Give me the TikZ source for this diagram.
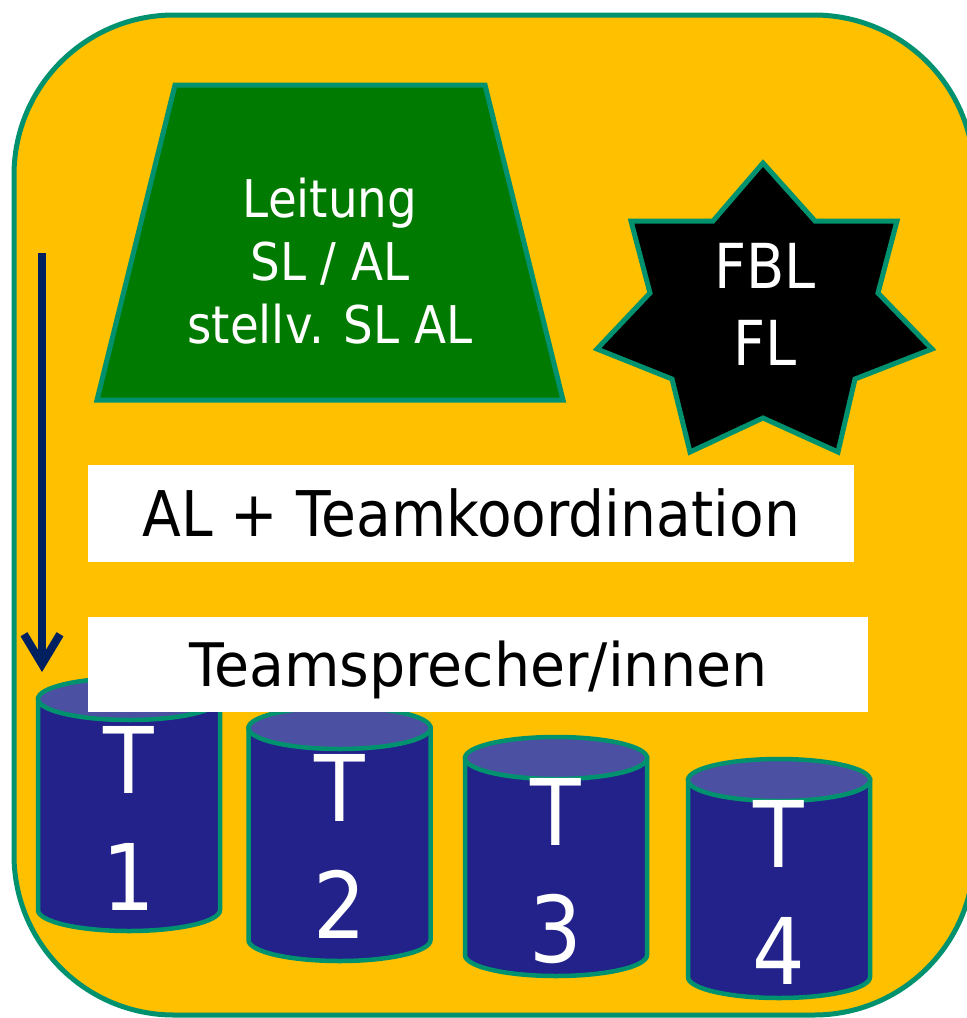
\documentclass[tikz,border=0pt]{standalone}
\usepackage{fontspec}
\setmainfont{DejaVu Sans}[FakeStretch=0.9]
\newfontfamily\widefont{DejaVu Sans}[FakeStretch=0.95]
\usetikzlibrary{arrows.meta}
\definecolor{bgyellow}{RGB}{255,192,0}
\definecolor{tealline}{RGB}{0,146,110}
\definecolor{leadgreen}{RGB}{0,122,0}
\definecolor{cylbody}{RGB}{34,34,138}
\definecolor{cyltop}{RGB}{76,80,162}
\definecolor{arrownavy}{RGB}{0,32,96}
\tikzset{
  frame/.style={draw=tealline, line width=5pt, fill=bgyellow, rounded corners=160pt},
  trapez/.style={draw=tealline, line width=5pt, fill=leadgreen, line join=miter},
  starshape/.style={draw=tealline, line width=5pt, fill=black, line join=miter},
  whitebox/.style={fill=white, inner sep=0pt, text=black, text depth=0pt},
  cylbodystyle/.style={draw=tealline, line width=4.5pt, fill=cylbody},
  cyltopstyle/.style={draw=tealline, line width=4.5pt, fill=cyltop},
  whitetext/.style={text=white, align=center, inner sep=0pt, anchor=base},
  cyltext/.style={whitetext, font=\fontsize{92}{117}\selectfont},
  downarrow/.style={draw=arrownavy, line width=8pt, -{Straight Barb[length=30pt,width=36pt]}}
}
\begin{document}
\begin{tikzpicture}[x=1pt,y=-1pt]
\useasboundingbox (0,0) rectangle (967,1018);
\clip (0,0) rectangle (967,1018);
% frame
\path[frame] (14,15) rectangle (974,1015);
% Leitung trapezoid
\path[trapez] (175,85) -- (485,85) -- (563,400) -- (97,400) -- cycle;
\node[whitetext, font=\fontsize{52}{63}\selectfont] (leitung) at (330,343) {Leitung\\SL / AL\\stellv. SL AL};
% star
\path[starshape] (763,163) -- (815,221) -- (897,221) -- (878,293) -- (932,349) -- (855,379)
  -- (838,452) -- (763,418) -- (690,452) -- (672,379) -- (597,349) -- (650,293)
  -- (631,221) -- (713,221) -- cycle;
\node[whitetext, font=\fontsize{62}{77}\selectfont] (fbl) at (765,365) {FBL\\FL};
% AL + Teamkoordination
\node[whitebox, anchor=north west, minimum width=766pt, minimum height=97pt,
  text height=46pt, font=\fontsize{63}{70}\selectfont] (alteam) at (88,465) {AL + Teamkoordination};
% arrow
\coordinate (arrS) at (42,253);
\coordinate (arrE) at (42,672);
\draw[downarrow] (arrS) -- (arrE);
% cylinders
\foreach \n/\x/\t/\b/\db in {1/129/699/910/910, 2/339.5/728/940/938, 3/556/758/955/962, 4/779/780/977/984}{
  \path[cylbodystyle] (\x-91,\t) -- (\x-91,\b) arc[start angle=180, end angle=0, x radius=91, y radius=21] -- (\x+91,\t) -- cycle;
  \path[cyltopstyle] (\x,\t) ellipse[x radius=91, y radius=21];
  \node[cyltext] (cyl\n) at (\x,\db) {T\\\n};
}
% Teamsprecher box
\node[whitebox, anchor=north west, minimum width=780pt, minimum height=95pt,
  text height=43pt, font=\widefont\fontsize{60}{70}\selectfont] (sprecher) at (88,617) {Teamsprecher/innen};
\end{tikzpicture}
\end{document}
